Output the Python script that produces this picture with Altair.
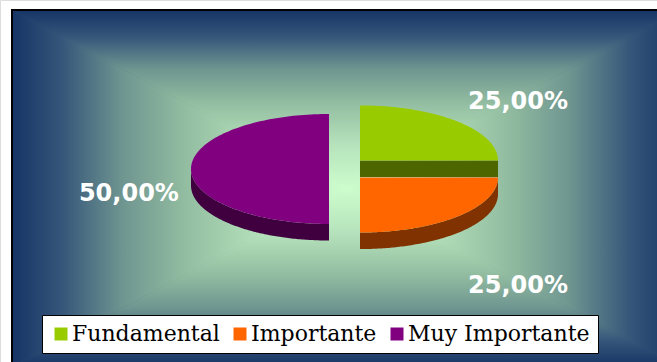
import math
import altair as alt
import pandas as pd

# ---------------- data ----------------
categories = ["Fundamental", "Importante", "Muy Importante"]
values = [25, 25, 50]
top_colors = ["#99CC00", "#FF6600", "#800080"]
side_colors = ["#4D6600", "#803300", "#400040"]

# ---------------- layout constants ----------------
W, H = 657, 362
CX_PX, CY_PX = 344.5, 169.0      # pie centre (px)
A_PX, B_PX = 138.0, 55.0         # ellipse semi-axes (px)
DEPTH = 0.30                     # pie thickness in units of B
EXPL_X, EXPL_Y = 0.1123, 0.156   # explosion
LBL_RX, LBL_RY, LBL_DX, LBL_DY = 1.52, 2.149, 0.07, -0.45


def ux(p):
    return (p - CX_PX) / A_PX


def uy(q):
    return (CY_PX - q) / B_PX


XDOM = [ux(0), ux(W)]
YDOM = [uy(H), uy(0)]


def X(f):
    return alt.X(f, type="quantitative", axis=None,
                 scale=alt.Scale(domain=XDOM, nice=False, zero=False))


def Y(f):
    return alt.Y(f, type="quantitative", axis=None, stack=None,
                 scale=alt.Scale(domain=YDOM, nice=False, zero=False))


# ---------------- pie geometry ----------------
def pt(theta):
    r = math.radians(theta)
    return (math.sin(r), math.cos(r))


def arc(t1, t2, n=120):
    return [pt(t1 + (t2 - t1) * i / n) for i in range(n + 1)]


def slab(poly):
    xs = sorted(set(round(p[0], 9) for p in poly))
    out = []
    m = len(poly)
    for x in xs:
        ys = []
        for i in range(m):
            (x1, y1), (x2, y2) = poly[i], poly[(i + 1) % m]
            lo, hi = min(x1, x2), max(x1, x2)
            if lo - 1e-9 <= x <= hi + 1e-9:
                if abs(x2 - x1) < 1e-12:
                    ys += [y1, y2]
                else:
                    t = (x - x1) / (x2 - x1)
                    ys.append(y1 + t * (y2 - y1))
        if ys:
            out.append((x, max(ys), min(ys)))
    return out


total = sum(values)
start = 0.0
top_rows, side_rows, label_rows = [], [], []
counter = [0]
for cat, v in zip(categories, values):
    t1 = start
    t2 = start + 360.0 * v / total
    start = t2
    mid = math.radians((t1 + t2) / 2)
    s, c = math.sin(mid), math.cos(mid)
    m = max(abs(s), abs(c))
    ox, oy = EXPL_X * s / m, EXPL_Y * c / m

    def add(poly, rows, cat=cat, ox=ox, oy=oy):
        counter[0] += 1
        for x, yt, yb in slab(poly):
            rows.append({"piece": counter[0], "category": cat,
                         "x": x + ox, "y": yt + oy, "y2": yb + oy})

    # top face
    add([(0.0, 0.0)] + arc(t1, t2), top_rows)
    # curved wall (front part only)
    a1, a2 = max(t1, 90.0), min(t2, 270.0)
    if a2 > a1:
        tp = arc(a1, a2)
        add(tp + [(x, y - DEPTH) for x, y in reversed(tp)], side_rows)
    # radial cut faces facing the viewer
    for theta, vis in ((t1, math.sin(math.radians(t1)) < -1e-9),
                       (t2, math.sin(math.radians(t2)) > 1e-9)):
        if vis:
            ex, ey = pt(theta)
            add([(0.0, 0.0), (ex, ey), (ex, ey - DEPTH), (0.0, -DEPTH)], side_rows)

    pct = f"{100.0 * v / total:.2f}".replace(".", ",") + "%"
    label_rows.append({"category": cat, "label": pct,
                       "x": ox + LBL_RX * s + LBL_DX,
                       "y": oy + LBL_RY * c + LBL_DY})

tops = pd.DataFrame(top_rows)
sides = pd.DataFrame(side_rows)
labels = pd.DataFrame(label_rows)

# ---------------- background (path gradient made of 4 triangles) ----------------
FL, FT, FR, FB = 12, 10, 680, 367
GX, GY = 346, 188.7
stops = [alt.GradientStop(color="#163465", offset=0),
         alt.GradientStop(color="#36567a", offset=0.15),
         alt.GradientStop(color="#6f9590", offset=0.33),
         alt.GradientStop(color="#93bda1", offset=0.52),
         alt.GradientStop(color="#b5e2bb", offset=0.75),
         alt.GradientStop(color="#cdfdcd", offset=1)]
base_stops = [alt.GradientStop(color="#cdfdcd", offset=0),
              alt.GradientStop(color="#a8d4b0", offset=0.3),
              alt.GradientStop(color="#7fa597", offset=0.55),
              alt.GradientStop(color="#4d6e80", offset=0.8),
              alt.GradientStop(color="#2a4a72", offset=1)]

base = alt.Chart(pd.DataFrame({"k": [0]})).mark_rect(
    fill=alt.RadialGradient(gradient="radial", stops=base_stops,
                            x1=0.5, y1=0.5, r1=0, x2=0.5, y2=0.5, r2=0.5)).encode(
    x=alt.value(FL), x2=alt.value(FR), y=alt.value(FT), y2=alt.value(FB))


def tri(xs, ys, y2s, x1, y1, x2, y2):
    df = pd.DataFrame({"x": [ux(p) for p in xs], "y": [uy(q) for q in ys],
                       "y2": [uy(q) for q in y2s]})
    grad = alt.LinearGradient(gradient="linear", stops=stops, x1=x1, y1=y1, x2=x2, y2=y2)
    return alt.Chart(df).mark_area(color=grad).encode(
        x=X("x"), y=Y("y"), y2="y2:Q")


bg_top = tri([FL, GX, FR], [FT, FT, FT], [FT, GY, FT], 0, 0, 0, 1)
bg_bot = tri([FL, GX, FR], [FB, FB, FB], [FB, GY, FB], 0, 1, 0, 0)
bg_left = tri([FL, GX], [FT, GY], [FB, GY], 0, 0, 1, 0)
bg_right = tri([GX, FR], [GY, FT], [GY, FB], 1, 0, 0, 0)

frame = alt.Chart(pd.DataFrame({"k": [0]})).mark_rect(
    fillOpacity=0, stroke="black", strokeWidth=2).encode(
    x=alt.value(FL), x2=alt.value(720), y=alt.value(FT), y2=alt.value(420))

side_layer = alt.Chart(sides).mark_area().encode(
    x=X("x"), y=Y("y"), y2="y2:Q", detail="piece:N",
    color=alt.Color("category:N", legend=None,
                    scale=alt.Scale(domain=categories, range=side_colors)))

top_layer = alt.Chart(tops).mark_area().encode(
    x=X("x"), y=Y("y"), y2="y2:Q", detail="piece:N",
    color=alt.Color("category:N", sort=categories,
                    scale=alt.Scale(domain=categories, range=top_colors),
                    legend=alt.Legend(orient="none", legendX=42, legendY=315,
                                      direction="horizontal", title=None,
                                      fillColor="white", strokeColor="black",
                                      padding=8, symbolType="square",
                                      symbolSize=169, symbolStrokeWidth=0,
                                      labelFont="DejaVu Serif", labelFontSize=22,
                                      labelColor="black", labelOffset=0,
                                      columnPadding=9, labelLimit=400)))

text_layer = alt.Chart(labels).mark_text(
    font="DejaVu Sans", fontSize=24, fontWeight="bold", color="white",
    align="center", baseline="middle").encode(
    x=X("x"), y=Y("y"), text="label:N")

chart = alt.layer(base, bg_top, bg_bot, bg_left, bg_right, frame,
                  side_layer, top_layer, text_layer).resolve_scale(
    color="independent").properties(
    width=W, height=H, padding=0, autosize=alt.AutoSizeParams(type="none")
).configure_view(stroke=None).configure(background="white")

chart.save("out.html", embed_options={"renderer": "svg", "actions": False})
